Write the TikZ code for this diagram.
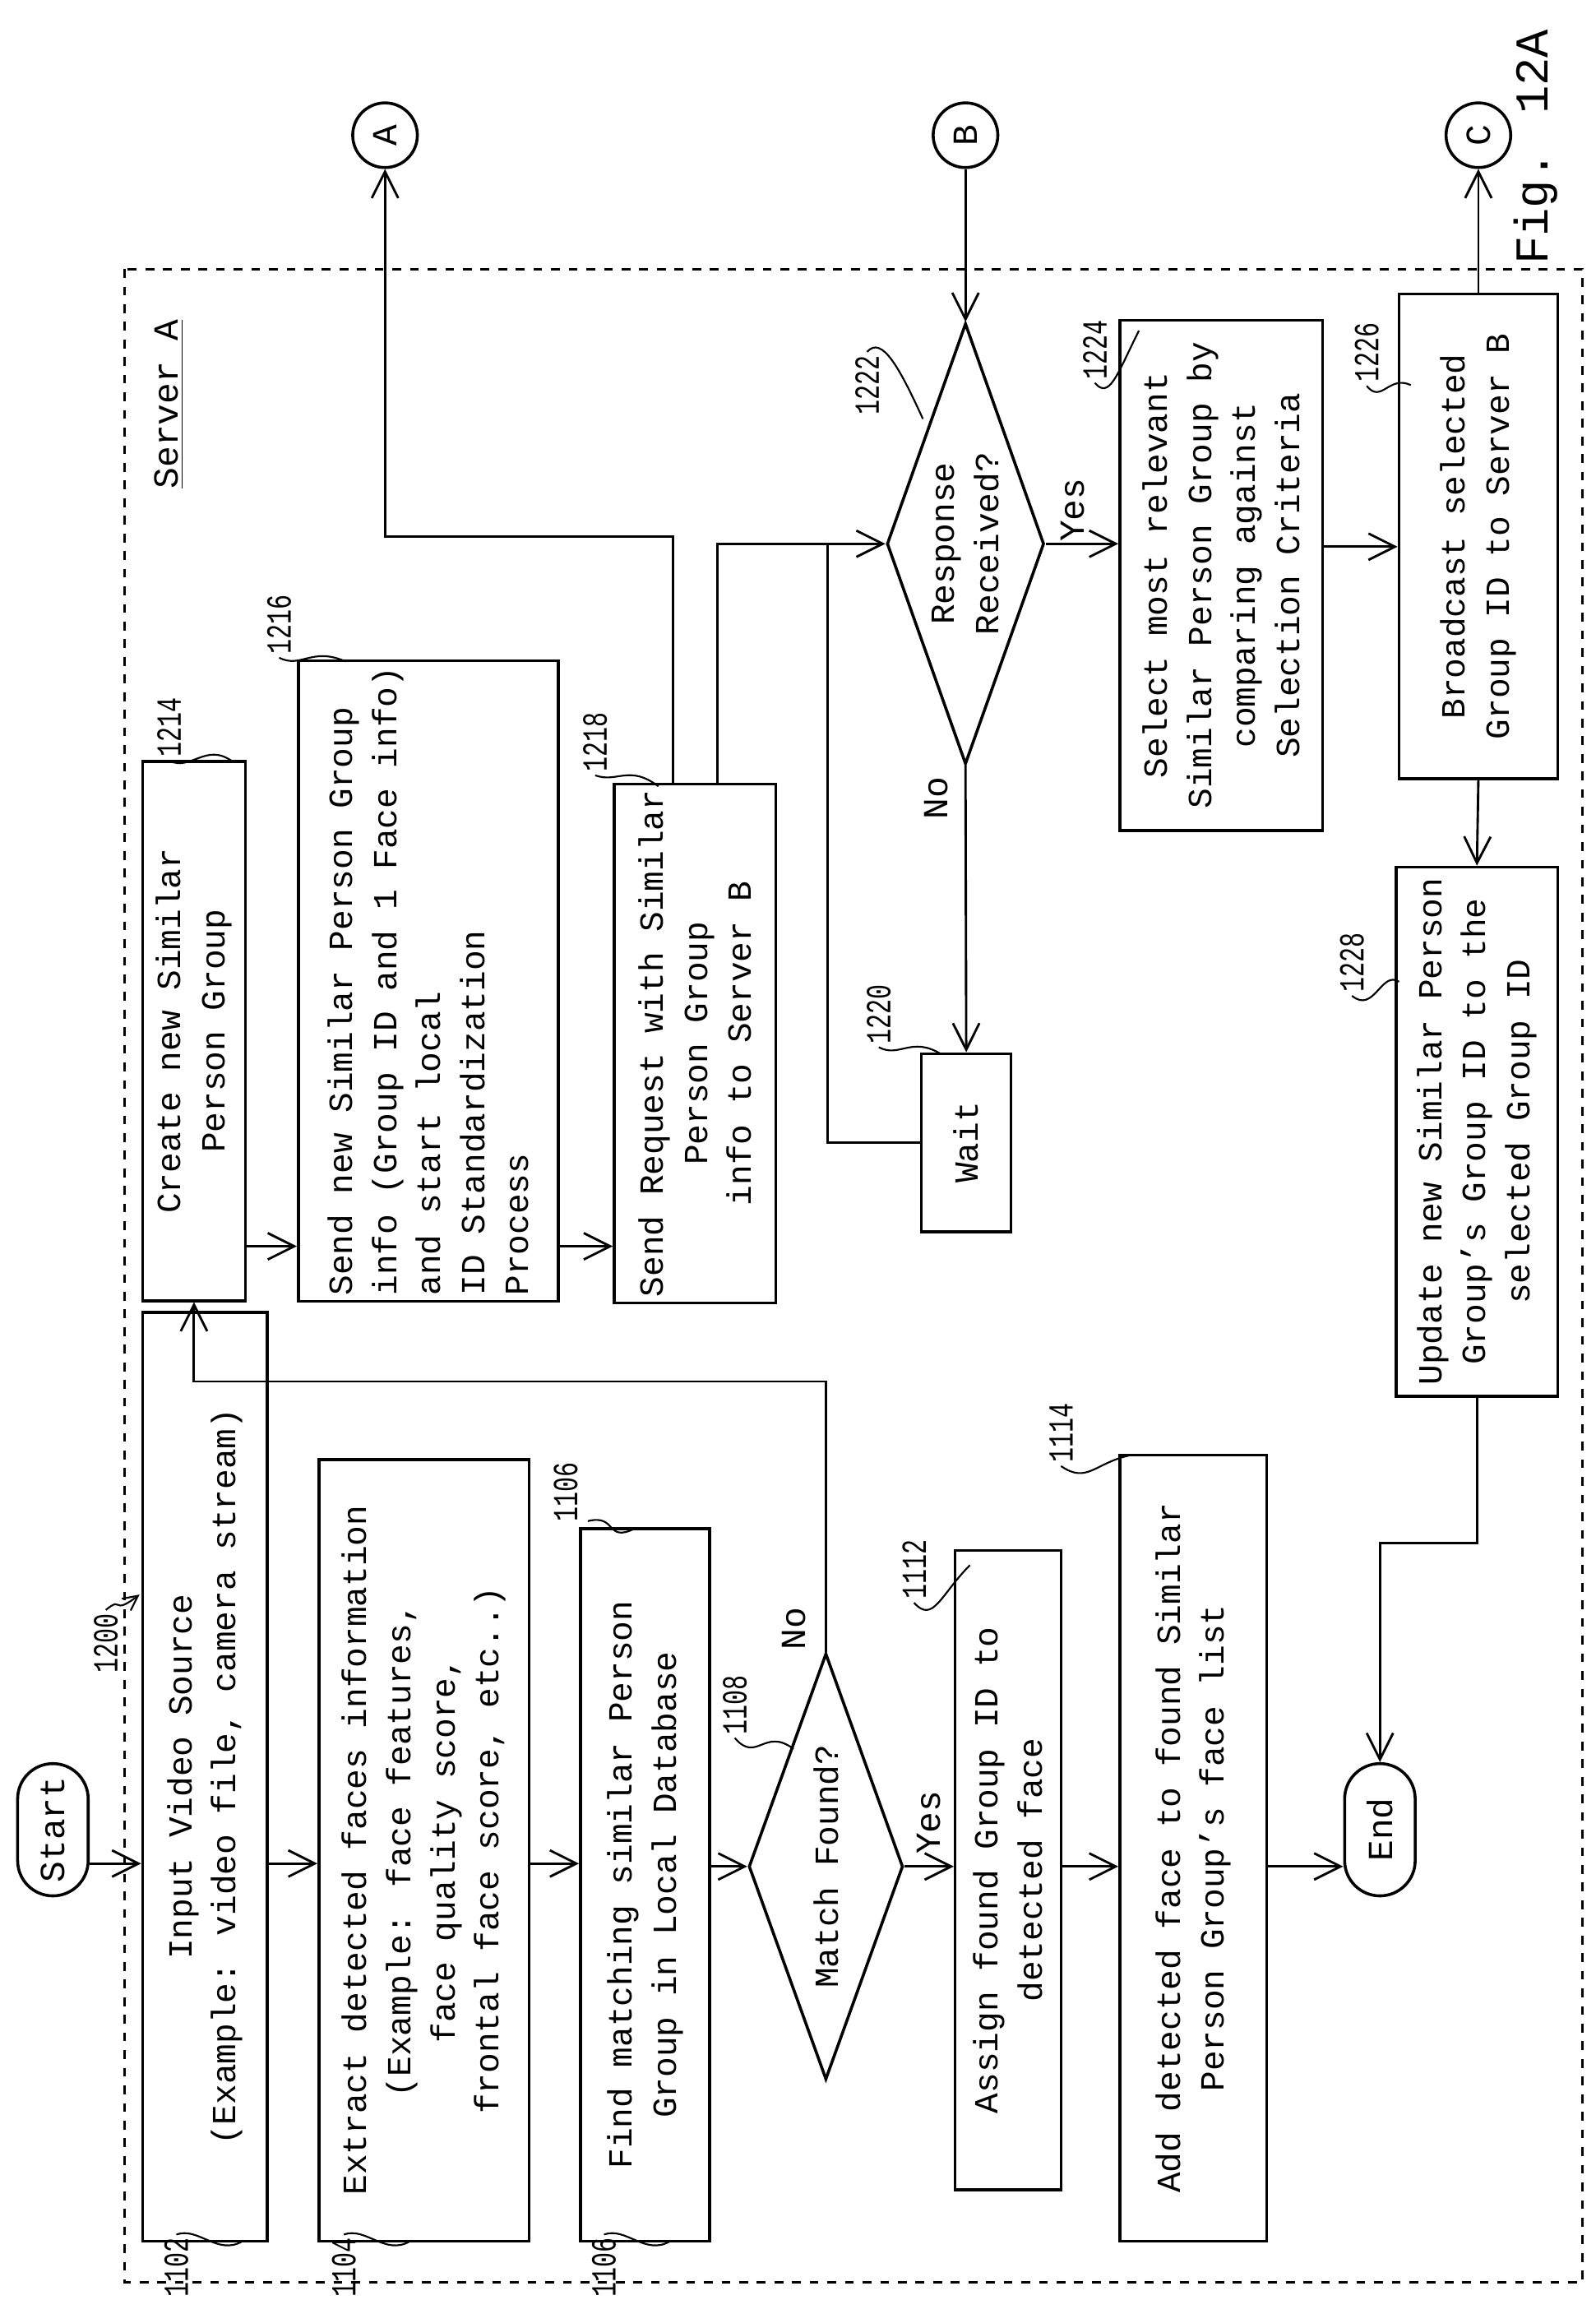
\documentclass[tikz,border=0pt]{standalone}
\usepackage{fontspec}
\setmainfont{Liberation Mono}
\usetikzlibrary{shapes.geometric,arrows.meta}
\tikzset{
  arr/.style={-{Straight Barb[length=9pt,width=9pt]},line width=0.8pt},
  box/.style={draw,line width=1pt,rotate=90,inner sep=2pt,align=center,font=\fontsize{11.5}{15}\selectfont},
  dec/.style={draw,diamond,aspect=2.8,line width=1pt,rotate=90,inner sep=0pt,align=center,font=\fontsize{11.5}{15}\selectfont},
  term/.style={draw,rounded corners=12pt,line width=1pt,rotate=90,minimum width=45pt,minimum height=24pt,font=\fontsize{12}{15}\selectfont},
  con/.style={draw,circle,line width=1pt,minimum size=22pt,inner sep=0pt,font=\fontsize{12}{15}\selectfont,rotate=90},
  num/.style={rotate=90,font=\fontsize{12}{13}\selectfont,inner sep=1pt},
  sq/.style={line width=0.6pt}
}
\newcommand{\refno}[1]{\scalebox{0.7}[1]{#1}}
\begin{document}
\begin{tikzpicture}[x=0.5pt,y=-0.5pt]
\useasboundingbox (0,0) rectangle (1086,1565);

% frame
\draw[dashed,line width=0.8pt] (85,183) rectangle (1077,1553);
\node[rotate=90,font=\fontsize{16}{18}\selectfont] (fig) at (1045,100) {Fig. 12A};
\node[num] (srv) at (115,275) {\underline{Server A}};

% left column
\node[term] (start) at (36,1245) {Start};
\node[box,minimum width=316pt,minimum height=42.5pt] (b1102) at (139.5,1209) {Input Video Source\\(Example: video file, camera stream)};
\node[box,minimum width=266pt,minimum height=71.5pt] (b1104) at (288.5,1259) {Extract detected faces information\\(Example: face features,\\face quality score,\\frontal face score, etc..)};
\node[box,minimum width=242.5pt,minimum height=44pt] (b1106) at (439,1282.5) {Find matching similar Person\\Group in Local Database};
\node[dec,minimum width=145pt,minimum height=52.5pt] (d1108) at (562,1270) {Match Found?};
\node[box,minimum width=217.5pt,minimum height=36pt] (b1112) at (686,1272.5) {Assign found Group ID to\\detected face};
\node[box,minimum width=267.5pt,minimum height=50pt] (b1114) at (812,1257.5) {Add detected face to found Similar\\Person Group's face list};
\node[term] (end) at (939,1245) {End};

% right part
\node[box,minimum width=183.5pt,minimum height=35pt] (b1214) at (132,701.5) {Create new Similar\\Person Group};
\node[box,minimum width=217.5pt,minimum height=88.5pt,align=left] (b1216) at (291.5,667.5) {Send new Similar Person Group\\info (Group ID and 1 Face info)\\ and start local\\ID Standardization\\Process};
\node[box,minimum width=175pt,minimum height=55pt] (b1218) at (473,710) {Send Request with Similar\\Person Group\\info to Server B};
\node[box,minimum width=60.5pt,minimum height=30.5pt] (b1220) at (657.5,777.5) {Wait};
\node[dec,minimum width=150pt,minimum height=53.5pt] (d1222) at (657,370) {Response\\Received?};
\node[box,minimum width=173.5pt,minimum height=69pt] (b1224) at (831,391.5) {Select most relevant\\Similar Person Group by\\comparing against\\Selection Criteria};
\node[box,minimum width=165pt,minimum height=54pt] (b1226) at (1006,365) {Broadcast selected\\Group ID to Server B};
\node[box,minimum width=180pt,minimum height=55pt] (b1228) at (1005,770) {Update new Similar Person\\Group's Group ID to the\\selected Group ID};

\node[con] (cA) at (262,92) {A};
\node[con] (cB) at (657,92) {B};
\node[con] (cC) at (1006,92) {C};

% connectors
\draw[arr] (start.south |- 0,1268) -- (b1102.north |- 0,1268);
\draw[arr] (b1102.south |- 0,1268) -- (b1104.north |- 0,1268);
\draw[arr] (b1104.south |- 0,1268) -- (b1106.north |- 0,1268);
\draw[arr] (b1106.south |- 0,1270) -- (d1108.north);
\draw[arr] (d1108.south) -- (b1112.north |- d1108.south);
\draw[arr] (b1112.south |- 0,1270) -- (b1114.north |- 0,1270);
\draw[arr] (b1114.south |- 0,1270) -- (end.north |- 0,1270);
\draw[arr] (d1108.east) -- (d1108.east |- 0,940) -| (b1214.west);
\draw[arr] (b1214.south |- 0,848) -- (b1216.north |- 0,848);
\draw[arr] (b1216.south |- 0,848) -- (b1218.north |- 0,848);
\draw[arr] ([xshift=-7.5pt]b1218.east) |- (cA.west |- 0,365) -- (cA.west);
\draw[arr] ([xshift=7.5pt]b1218.east) |- (d1222.north);
\draw[line width=0.8pt] (b1220.north) -| (563,370);
\draw[arr] (cB.west) -- (d1222.east);
\draw[arr] (d1222.west) -- (b1220.east);
\draw[arr] (d1222.south) -- (b1224.north |- d1222.south);
\draw[arr] (b1224.south |- 0,372) -- (b1226.north |- 0,372);
\draw[arr] (b1226.east) -- (cC.west);
\draw[arr] (b1226.west) -- (b1228.east);
\draw[arr] (b1228.west) -- (1005,1050) -| (end.east);

% branch labels
\node[num] (no1) at (540,1108) {No};
\node[num] (yes1) at (632,1240) {Yes};
\node[num] (no2) at (637,543) {No};
\node[num] (yes2) at (730,347) {Yes};

% reference numbers
\node[num] (n1102) at (120,1543) {\refno{1102}};
\draw[sq] (n1102.east) .. controls (135,1515) and (148,1535) .. (165,1525);
\node[num] (n1104) at (234,1543) {\refno{1104}};
\draw[sq] (n1104.east) .. controls (249,1515) and (262,1535) .. (279,1525);
\node[num] (n1106) at (411,1543) {\refno{1106}};
\draw[sq] (n1106.east) .. controls (426,1515) and (439,1535) .. (456,1525);
\node[num] (n1106b) at (385,1015) {\refno{1106}};
\draw[sq] (400,1035) .. controls (420,1030) and (412,1050) .. (432,1040);
\node[num] (n1108) at (500,1160) {\refno{1108}};
\draw[sq] (n1108.west) .. controls (515,1200) and (520,1175) .. (540,1190);
\node[num] (n1112) at (622,1068) {\refno{1112}};
\draw[sq] (n1112.west) .. controls (635,1105) and (640,1085) .. (660,1065);
\node[num] (n1114) at (722,975) {\refno{1114}};
\draw[sq] (n1114.west) .. controls (740,1010) and (745,995) .. (770,990);
\node[num] (n1200) at (72,1118) {\refno{1200}};
\draw[sq,-{Straight Barb[length=5pt,width=5pt]}] (n1200.east) .. controls (85,1085) and (75,1100) .. (95,1085);
\node[num] (n1214) at (115,495) {\refno{1214}};
\draw[sq] (n1214.west) .. controls (130,525) and (140,505) .. (158,518);
\node[num] (n1216) at (190,425) {\refno{1216}};
\draw[sq] (n1216.west) .. controls (205,455) and (212,440) .. (235,450);
\node[num] (n1218) at (405,505) {\refno{1218}};
\draw[sq] (n1218.west) .. controls (420,533) and (428,520) .. (448,535);
\node[num] (n1220) at (598,690) {\refno{1220}};
\draw[sq] (n1220.west) .. controls (612,720) and (620,705) .. (640,717);
\node[num] (n1222) at (590,262) {\refno{1222}};
\draw[sq] (n1222.east) .. controls (600,228) and (612,250) .. (628,285);
\node[num] (n1224) at (745,238) {\refno{1224}};
\draw[sq] (n1224.west) .. controls (755,272) and (760,255) .. (775,225);
\node[num] (n1226) at (930,240) {\refno{1226}};
\draw[sq] (n1226.west) .. controls (940,275) and (945,255) .. (960,262);
\node[num] (n1228) at (920,655) {\refno{1228}};
\draw[sq] (n1228.west) .. controls (935,690) and (940,660) .. (952,668);
\end{tikzpicture}
\end{document}
